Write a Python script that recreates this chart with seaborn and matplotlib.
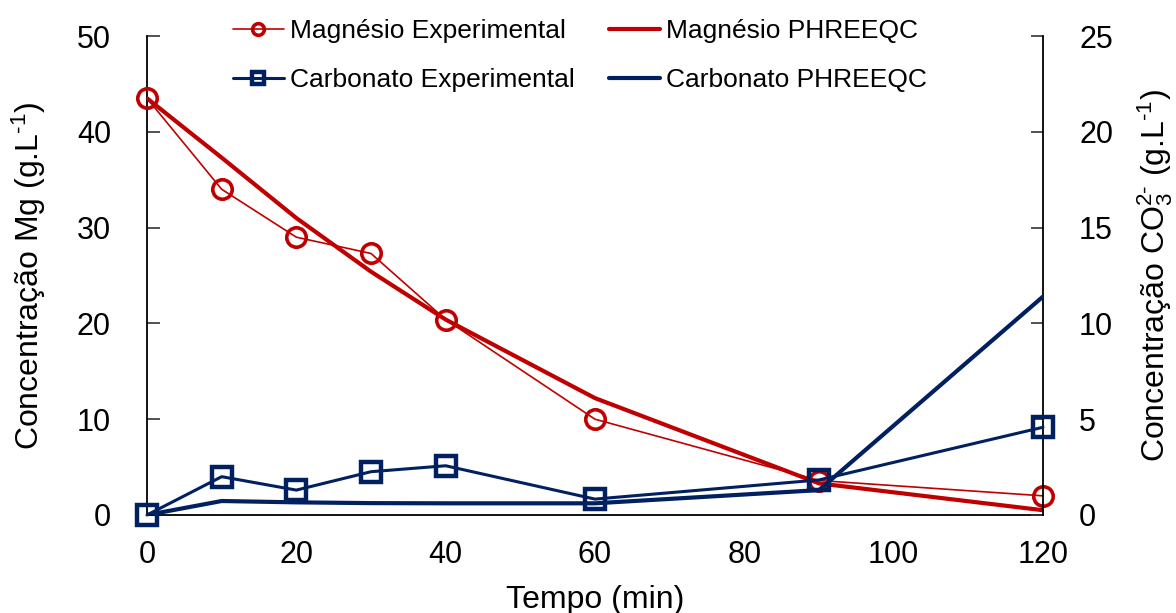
import matplotlib
matplotlib.use("Agg")
import matplotlib.pyplot as plt
import seaborn as sns
import pandas as pd

# Time points (min)
tempo = [0, 10, 20, 30, 40, 60, 90, 120]

# Magnesium concentration, g/L (left axis)
mg_experimental = [43.5, 34.0, 29.0, 27.3, 20.4, 10.0, 3.6, 2.0]
mg_phreeqc = [43.5, 37.3, 31.0, 25.4, 20.4, 12.2, 3.3, 0.5]

# Carbonate concentration, g/L (right axis)
co3_experimental = [0.0, 2.0, 1.3, 2.26, 2.57, 0.83, 1.83, 4.58]
co3_phreeqc = [0.0, 0.73, 0.66, 0.62, 0.61, 0.61, 1.3, 11.4]

RED = "#C00000"
BLUE = "#002060"

sns.set_theme(style="white")
plt.rcParams["font.family"] = ["Liberation Sans", "DejaVu Sans"]
plt.rcParams["mathtext.fontset"] = "custom"
plt.rcParams["mathtext.rm"] = "Liberation Sans"
plt.rcParams["mathtext.it"] = "Liberation Sans"
plt.rcParams["text.color"] = "black"
plt.rcParams["axes.labelcolor"] = "black"

df = pd.DataFrame({
    "tempo": tempo,
    "mg_exp": mg_experimental,
    "mg_ph": mg_phreeqc,
    "co3_exp": co3_experimental,
    "co3_ph": co3_phreeqc,
})

fig = plt.figure(figsize=(11.76, 6.13), dpi=100)
ax = fig.add_axes([147 / 1176, 1 - 515 / 613, (1043 - 147) / 1176, (515 - 36) / 613])
ax2 = ax.twinx()

sns.lineplot(data=df, x="tempo", y="mg_exp", ax=ax, color=RED, lw=1.2,
             marker="o", markersize=14, markerfacecolor="none",
             markeredgecolor=RED, markeredgewidth=2.6, clip_on=False,
             label="Magnésio Experimental", legend=False, zorder=4)
sns.lineplot(data=df, x="tempo", y="mg_ph", ax=ax, color=RED, lw=3.0,
             label="Magnésio PHREEQC", legend=False, zorder=3)

sns.lineplot(data=df, x="tempo", y="co3_exp", ax=ax2, color=BLUE, lw=2.2,
             marker="s", markersize=14, markerfacecolor="none",
             markeredgecolor=BLUE, markeredgewidth=3.2, clip_on=False,
             label="Carbonato Experimental", legend=False, zorder=4)
sns.lineplot(data=df, x="tempo", y="co3_ph", ax=ax2, color=BLUE, lw=3.0,
             label="Carbonato PHREEQC", legend=False, zorder=3)

ax.set_xlim(0, 120)
ax.set_ylim(0, 50)
ax2.set_ylim(0, 25)
ax.set_xticks(range(0, 121, 20))
ax.set_yticks(range(0, 51, 10))
ax2.set_yticks(range(0, 26, 5))

for a in (ax, ax2):
    a.set_facecolor("none")
    a.grid(False)
    a.spines["top"].set_visible(False)
    for s in ("left", "right", "bottom"):
        a.spines[s].set_color("black")
        a.spines[s].set_linewidth(1.3)
ax.spines["right"].set_visible(False)
ax2.spines["left"].set_visible(False)
ax2.spines["bottom"].set_visible(False)
ax.patch.set_visible(False)

ax.tick_params(axis="both", direction="in", length=9, width=1.2, color="#333333",
               labelsize=22, labelcolor="black")
ax.tick_params(axis="y", pad=26)
ax.tick_params(axis="x", pad=18)
ax2.tick_params(axis="y", direction="in", length=9, width=1.2, color="#333333",
                labelsize=22, pad=26, labelcolor="black")

ax.set_xlabel("Tempo (min)", fontsize=23, labelpad=11)
ax.set_ylabel(r"Concentração Mg (g.L$^{\text{-1}}$)", fontsize=23, labelpad=21)
ax2.set_ylabel(r"Concentração CO$_3^{2\text{-}}$ (g.L$^{\text{-1}}$)", fontsize=23, labelpad=16)

h1, l1 = ax.get_legend_handles_labels()
h2, l2 = ax2.get_legend_handles_labels()
handles = [h1[0], h2[0], h1[1], h2[1]]
labels = [l1[0], l2[0], l1[1], l2[1]]
leg = ax2.legend(handles, labels, ncol=2, frameon=False, fontsize=19,
                 loc="upper center", bbox_to_anchor=(0.483, 1.085),
                 handlelength=1.95, handletextpad=0.22, columnspacing=1.3,
                 labelspacing=0.95, markerscale=0.6)

fig.savefig("out.png", dpi=100)
